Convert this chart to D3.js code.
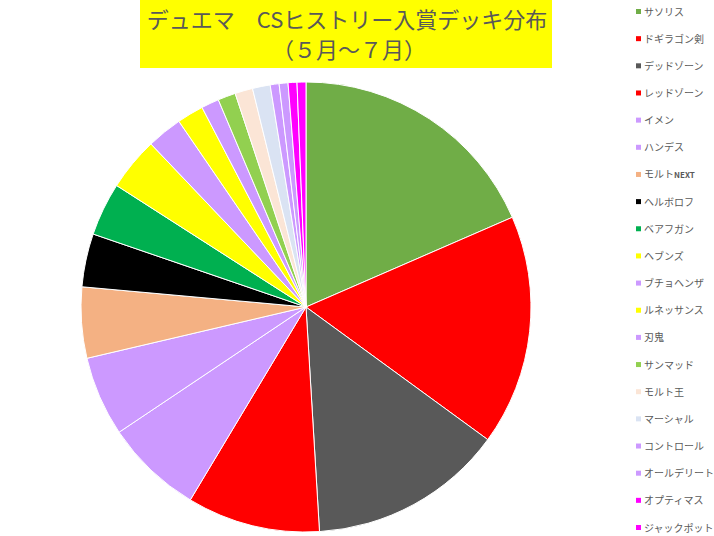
<!DOCTYPE html>
<html>
<head>
<meta charset="utf-8">
<script src="https://cdn.jsdelivr.net/npm/d3@7"></script>
<style>
  body { margin: 0; background: #fff; }
  svg { display: block; font-family: "Noto Sans CJK JP", "Noto Sans", sans-serif; }
</style>
</head>
<body>
<script>
// deck names, in pie order (clockwise from 12 o'clock)
const decks = ['サソリス', 'ドギラゴン剣', 'デッドゾーン', 'レッドゾーン', 'イメン', 'ハンデス',
  'モルトNEXT', 'ヘルボロフ', 'ベアフガン', 'ヘブンズ', 'ブチョヘンザ', 'ルネッサンス', '刃鬼',
  'サンマッド', 'モルト王', 'マーシャル', 'コントロール', 'オールデリート', 'オプティマス', 'ジャックポット'];

// number of placings per deck
const counts = [29, 26, 22, 15, 11, 9, 8, 6, 6, 6, 4, 3, 2, 2, 2, 2, 1, 1, 1, 1];

const colors = ['#70AD47', '#FF0000', '#595959', '#FF0000', '#CC99FF', '#CC99FF',
  '#F4B183', '#000000', '#00B050', '#FFFF00', '#CC99FF', '#FFFF00', '#CC99FF',
  '#92D050', '#FBE5D6', '#DAE3F3', '#CC99FF', '#CC99FF', '#FF00FF', '#FF00FF'];

const width = 714, height = 536;
const cx = 306, cy = 307, radius = 225;

const svg = d3.select('body').append('svg')
    .attr('width', width)
    .attr('height', height);

// title box
svg.append('rect')
    .attr('x', 140)
    .attr('y', 0)
    .attr('width', 412)
    .attr('height', 68)
    .attr('fill', '#FFFF00');

svg.append('text')
    .attr('x', 347)
    .attr('y', 28)
    .attr('text-anchor', 'middle')
    .attr('fill', '#595959')
    .style('font-size', '22px')
    .text('デュエマ　CSヒストリー入賞デッキ分布');

svg.append('text')
    .attr('x', 349)
    .attr('y', 58)
    .attr('text-anchor', 'middle')
    .attr('fill', '#595959')
    .style('font-size', '22px')
    .text('（５月～７月）');

// pie
const pie = d3.pie()
    .sort(null)
    .value(d => d.count);

const arc = d3.arc()
    .innerRadius(0)
    .outerRadius(radius);

const data = decks.map((name, i) => ({ name, count: counts[i], color: colors[i] }));

svg.append('g')
    .attr('transform', `translate(${cx},${cy})`)
  .selectAll('path')
    .data(pie(data))
    .enter()
  .append('path')
    .attr('d', arc)
    .attr('fill', d => d.data.color)
    .attr('stroke', '#fff')
    .attr('stroke-width', 1);

// legend
const ly = d3.scalePoint()
    .domain(decks)
    .range([12, 528]);

const legend = svg.append('g')
  .selectAll('g')
    .data(data)
    .enter()
  .append('g')
    .attr('transform', d => `translate(636,${ly(d.name)})`);

legend.append('rect')
    .attr('x', 0)
    .attr('y', -3)
    .attr('width', 5)
    .attr('height', 5)
    .attr('fill', d => d.color);

legend.append('text')
    .attr('x', 8)
    .attr('y', 0)
    .attr('dy', '0.35em')
    .attr('fill', '#595959')
    .style('font-size', '10px')
    .each(function(d) {
      const t = d3.select(this);
      if (d.name.endsWith('NEXT')) {
        t.append('tspan').text(d.name.replace('NEXT', ''));
        t.append('tspan').style('font-size', '8px').style('font-weight', 'bold').text('NEXT');
      } else {
        t.text(d.name);
      }
    });
</script>
</body>
</html>
